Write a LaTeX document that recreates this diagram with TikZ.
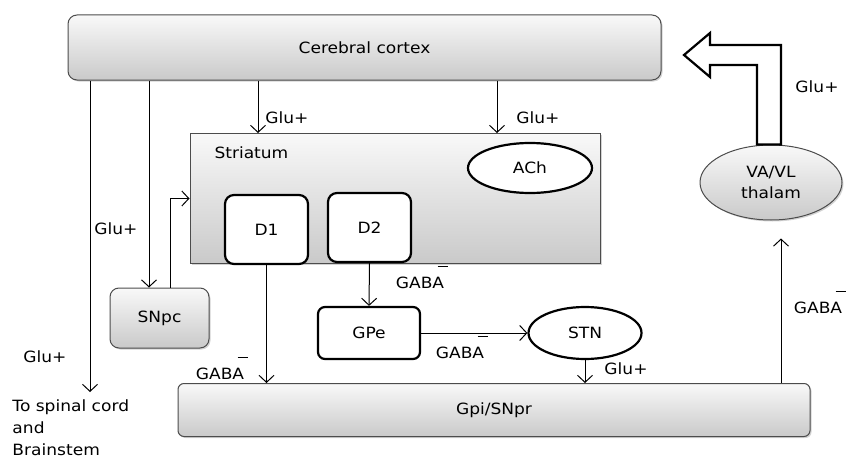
\documentclass[tikz,border=0pt]{standalone}
\usepackage{fontspec}
\setmainfont[FakeStretch=1.1]{DejaVu Sans}
\usetikzlibrary{shapes.geometric,shadows,arrows.meta}

\def\cLt{gray!5}
\def\cDk{gray!42}
\def\cLn{gray!60!black}

\tikzstyle{every node} = [font=\fontsize{15.5}{19}\selectfont]
\tikzstyle{grbox} = [draw=\cLn, rectangle, rounded corners=9pt,
                     top color=\cLt, bottom color=\cDk, inner sep=0pt,
                     drop shadow={shadow xshift=1.5pt,shadow yshift=-1.5pt,opacity=0.35}]
\tikzstyle{wbox} = [draw, rectangle, rounded corners=9pt, line width=2.2pt,
                    fill=white, inner sep=0pt]
\tikzstyle{well} = [draw, ellipse, line width=2.2pt, fill=white, inner sep=0pt]
\tikzstyle{lbl} = [inner sep=0pt]

\newcommand{\gabam}{GABA\rlap{\kern-0.42em\raisebox{1.35em}{\rule{0.7em}{0.09em}}}}

\begin{document}
\begin{tikzpicture}[x=1pt,y=-1pt,line width=1pt,
  >={Straight Barb[length=7pt,width=15pt]}]

\useasboundingbox (0,0) rectangle (851,460);

\node[grbox,minimum width=593pt,minimum height=65pt]
     at (364.5,47.5)
     (cortex) {Cerebral cortex};

\node[grbox,rounded corners=0pt,minimum width=410pt,minimum height=130pt]
     at (395,198.5)
     (striatum) {};
\node[lbl,anchor=west] at (214,153) (striatumlbl) {Striatum};

\node[well,minimum width=124pt,minimum height=50pt]
     at (530,168)
     (ach) {ACh};
\node[wbox,minimum width=83pt,minimum height=69pt]
     at (266.5,229.5)
     (d1) {D1};
\node[wbox,minimum width=83pt,minimum height=69pt]
     at (369.5,227.5)
     (d2) {D2};

\node[grbox,minimum width=99pt,minimum height=60pt]
     at (159.5,318)
     (snpc) {SNpc};

\node[wbox,rounded corners=7pt,minimum width=102pt,minimum height=52pt]
     at (369,333)
     (gpe) {GPe};
\node[well,minimum width=113pt,minimum height=52pt]
     at (585,333)
     (stn) {STN};

\node[grbox,rounded corners=6pt,minimum width=632pt,minimum height=53pt]
     at (494,410)
     (gpi) {Gpi/SNpr};

\node[grbox,ellipse,minimum width=142pt,minimum height=75pt,
      align=center,font=\fontsize{15.5}{21}\selectfont]
     at (771,182.5)
     (thal) {VA/VL\\thalam};

% thalamus back to cortex
\draw[line width=2.2pt,fill=white]
     (thal.north -| 757,0) -- (757,65) -- (710,65) -- (710,77)
     -- (684,55) -- (710,33) -- (710,45) -- (781,45)
     -- (thal.north -| 781,0) -- cycle;
\node[lbl] at (817,87) (gluthal) {Glu+};

% cortex outputs
\draw[->] (cortex.south -| 258,0) -- (striatum.north -| 258,0);
\node[lbl] at (287,118) (glua) {Glu+};
\draw[->] (cortex.south -| 497,0) -- (striatum.north -| 497,0);
\node[lbl] at (538,118) (glub) {Glu+};

\coordinate (spinal) at (90,392);
\draw[->] (cortex.south -| spinal) -- (spinal);
\node[lbl] at (45,357) (gluc) {Glu+};
\node[lbl,anchor=north west,align=left,font=\fontsize{15.5}{22}\selectfont]
     at (12,399)
     (spinaltxt) {To spinal cord\\and\\Brainstem};

\draw[->] (cortex.south -| 149,0) -- (snpc.north -| 149,0);
\node[lbl] at (116,229) (glud) {Glu+};
\draw[->] (snpc.north -| 170,0) |- (striatum.west);

% striatum outputs
\draw[->] (d1.south) -- (gpi.north -| d1.south);
\node[lbl] at (220,368) (gabaa) {\gabam};
\draw[->] (d2.south) -- (gpe.north);
\node[lbl] at (420,277) (gabab) {\gabam};

\draw[->] (gpe.east) -- (stn.west);
\node[lbl] at (460,347) (gabac) {\gabam};
\draw[->] (stn.south) -- (gpi.north -| stn.south);
\node[lbl] at (626,369) (glue) {Glu+};

\draw[->,shorten >=18pt] (gpi.north -| 781,0) -- (thal.south -| 781,0);
\node[lbl] at (818,302) (gabad) {\gabam};

\end{tikzpicture}
\end{document}
